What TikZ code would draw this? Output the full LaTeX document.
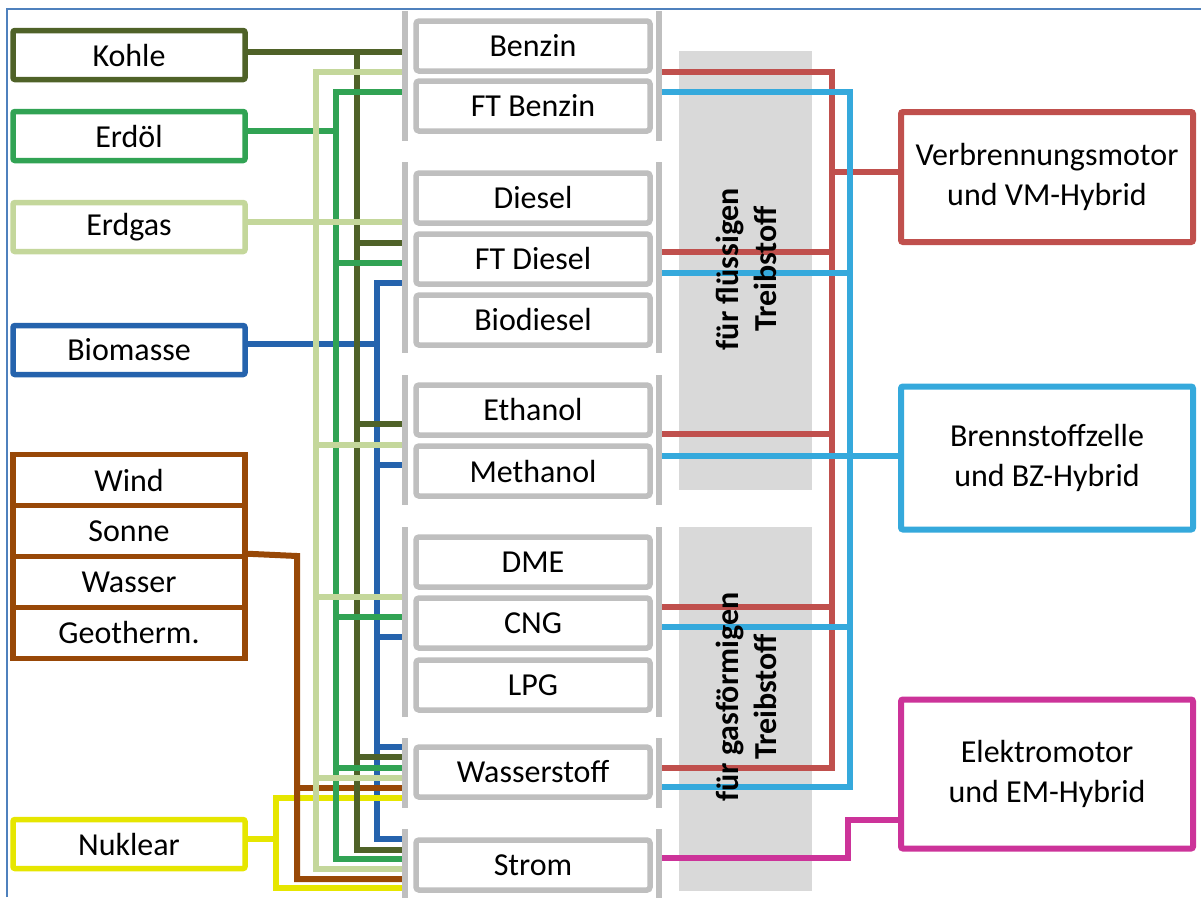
\documentclass[tikz,border=0pt]{standalone}
\usepackage{fontspec}
\setmainfont{Carlito}
\usetikzlibrary{shadows}

\definecolor{cKohle}{HTML}{4F6228}
\definecolor{cOel}{HTML}{31A354}
\definecolor{cGas}{HTML}{C4D79B}
\definecolor{cBio}{HTML}{2563AD}
\definecolor{cRen}{HTML}{984807}
\definecolor{cNuk}{HTML}{E6E600}
\definecolor{cVM}{HTML}{C0504D}
\definecolor{cBZ}{HTML}{35A9DC}
\definecolor{cEM}{HTML}{CC3399}
\definecolor{cGray}{HTML}{BFBFBF}
\definecolor{cPanel}{HTML}{D9D9D9}
\definecolor{cFrame}{HTML}{4F81BD}

\begin{document}
\begin{tikzpicture}[x=1pt,y=-1pt,
  txt/.style={font=\fontsize{32}{40}\selectfont},
  src/.style={txt,draw,line width=5.5pt,fill=white,minimum width=232pt,
    minimum height=49pt,inner sep=0pt,rounded corners=2pt},
  cell/.style={txt,draw=cRen,line width=5.5pt,fill=white,minimum width=232pt,
    minimum height=51pt,inner sep=0pt},
  fuel/.style={txt,draw=cGray,line width=5.5pt,fill=white,minimum width=234pt,
    minimum height=50pt,inner sep=0pt,rounded corners=3pt},
  drive/.style={txt,draw,line width=6pt,fill=white,minimum width=292pt,
    inner sep=0pt,align=center,rounded corners=2pt},
  gbar/.style={draw=cGray,line width=6pt},
  conn/.style={line width=6pt},
  panel/.style={fill=cPanel,drop shadow={shadow xshift=0pt,shadow yshift=-2.5pt,opacity=0.3}},
  ptxt/.style={font=\bfseries\fontsize{32}{38}\selectfont,rotate=90,align=center}]

\useasboundingbox (0,0) rectangle (1201,897);
\draw[cFrame,line width=2pt] (7,897) -- (7,9) -- (1201,9);

% grey panels for liquid and gaseous fuels
\path[panel] (679,51) rectangle (812,487);
\path[panel] (679,527) rectangle (812,888);

% primary energy sources
\node[src,draw=cKohle] (kohle) at (129,55) {Kohle};
\node[src,draw=cOel] (erdoel) at (129,136) {Erdöl};
\node[src,draw=cGas] (erdgas) at (129,227) {Erdgas};
\node[src,draw=cBio] (biomasse) at (129,350) {Biomasse};
\node[cell] (wind) at (129,480) {Wind};
\node[cell] (sonne) at (129,531) {Sonne};
\node[cell] (wasser) at (129,582) {Wasser};
\node[cell] (geo) at (129,633) {Geotherm.};
\node[src,draw=cNuk] (nuklear) at (129,844) {Nuklear};

% fuels
\node[fuel] (benzin) at (533,46) {Benzin};
\node[fuel] (ftbenzin) at (533,106) {FT Benzin};
\node[fuel] (diesel) at (533,198) {Diesel};
\node[fuel] (ftdiesel) at (533,259) {FT Diesel};
\node[fuel] (biodiesel) at (533,320) {Biodiesel};
\node[fuel] (ethanol) at (533,410) {Ethanol};
\node[fuel] (methanol) at (533,471) {Methanol};
\node[fuel] (dme) at (533,562) {DME};
\node[fuel] (cng) at (533,623) {CNG};
\node[fuel] (lpg) at (533,685) {LPG};
\node[fuel] (h2) at (533,772) {Wasserstoff};
\node[fuel] (strom) at (533,865) {Strom};

% drive trains
\node[drive,draw=cVM,minimum height=130pt] (vm) at (1047,177) {Verbrennungsmotor\\und VM-Hybrid};
\node[drive,draw=cBZ,minimum height=143pt] (bz) at (1047,458) {Brennstoffzelle\\und BZ-Hybrid};
\node[drive,draw=cEM,minimum height=149pt] (em) at (1047,774) {Elektromotor\\und EM-Hybrid};

% entry points on the left group bars
\foreach \n/\y in {g1k/52,g1g/72,g1o/92,g2g/222,g2k/243,g2o/263,g2b/283,
  g3k/424,g3g/445,g3b/465,g4g/597,g4o/617,g4b/637,
  g5b/747,g5k/757,g5o/768,g5g/778,g5r/788,g5n/798,
  g6b/839,g6k/850,g6o/859,g6g/869,g6r/879,g6n/888}
  \coordinate (\n) at (405,\y);
% entry points on the right group bars
\foreach \n/\y in {r1/72,r2/252,r3/434,r4/607,r5/768,c1/92,c2/273,c3/456,c4/627,c5/787,m0/858}
  \coordinate (\n) at (659,\y);

% trunk lines
\coordinate (tN) at (276,0);
\coordinate (tR) at (297,0);
\coordinate (tG) at (316,0);
\coordinate (tO) at (336,0);
\coordinate (tK) at (357,0);
\coordinate (tB) at (377,0);
\coordinate (oIn) at (336,131);
\coordinate (bIn) at (377,344);
\coordinate (rIn) at (297,556);
\coordinate (nIn) at (276,839);

% Biomasse
\draw[conn,cBio] (biomasse.east |- bIn) -- (bIn);
\draw[conn,cBio] (g2b) -- (tB |- g2b) -- (tB |- g6b) -- (g6b);
\foreach \p in {g3b,g4b,g5b} \draw[conn,cBio] (tB |- \p) -- (\p);
% Nuklear
\draw[conn,cNuk] (nuklear.east |- nIn) -- (nIn);
\draw[conn,cNuk] (g5n) -- (tN |- g5n) -- (tN |- g6n) -- (g6n);
% Wind, Sonne, Wasser, Geothermie
\draw[conn,cRen] (wasser.north east) -- (rIn) -- (tR |- g6r) -- (g6r);
\draw[conn,cRen] (tR |- g5r) -- (g5r);
% Kohle
\draw[conn,cKohle] (kohle.east |- g1k) -- (g1k);
\draw[conn,cKohle] (tK |- g1k) -- (tK |- g6k) -- (g6k);
\foreach \p in {g2k,g3k,g5k} \draw[conn,cKohle] (tK |- \p) -- (\p);
% Erdoel
\draw[conn,cOel] (erdoel.east |- oIn) -- (oIn);
\draw[conn,cOel] (g1o) -- (tO |- g1o) -- (tO |- g6o) -- (g6o);
\foreach \p in {g2o,g4o,g5o} \draw[conn,cOel] (tO |- \p) -- (\p);
% Erdgas
\draw[conn,cGas] (g1g) -- (tG |- g1g) -- (tG |- g6g) -- (g6g);
\draw[conn,cGas] (erdgas.east |- g2g) -- (g2g);
\foreach \p in {g3g,g4g,g5g} \draw[conn,cGas] (tG |- \p) -- (\p);

% fuels to drive trains
\coordinate (tVM) at (832,0);
\coordinate (tBZ) at (850,0);
\coordinate (vIn) at (832,172);
\coordinate (m1) at (848,858);
\coordinate (m2) at (848,820);
\draw[conn,cVM] (r1) -- (tVM |- r1) -- (tVM |- r5) -- (r5);
\foreach \p in {r2,r3,r4} \draw[conn,cVM] (\p) -- (tVM |- \p);
\draw[conn,cVM] (vIn) -- (vm.west |- vIn);
\draw[conn,cBZ] (c1) -- (tBZ |- c1) -- (tBZ |- c5) -- (c5);
\foreach \p in {c2,c4} \draw[conn,cBZ] (\p) -- (tBZ |- \p);
\draw[conn,cBZ] (c3) -- (bz.west |- c3);
\draw[conn,cEM] (m0) -- (m1) -- (m2) -- (em.west |- m2);

% group bars
\foreach \a/\b in {11/141,162/353,375/505,527/717,738/808,829/905}{
  \draw[gbar] (405,\a) -- (405,\b);
  \draw[gbar] (659,\a) -- (659,\b);
}

% panel captions
\node[ptxt] (liq) at (746,269) {für flüssigen\\Treibstoff};
\node[ptxt] (gas) at (746,697) {für gasförmigen\\Treibstoff};
\end{tikzpicture}
\end{document}
